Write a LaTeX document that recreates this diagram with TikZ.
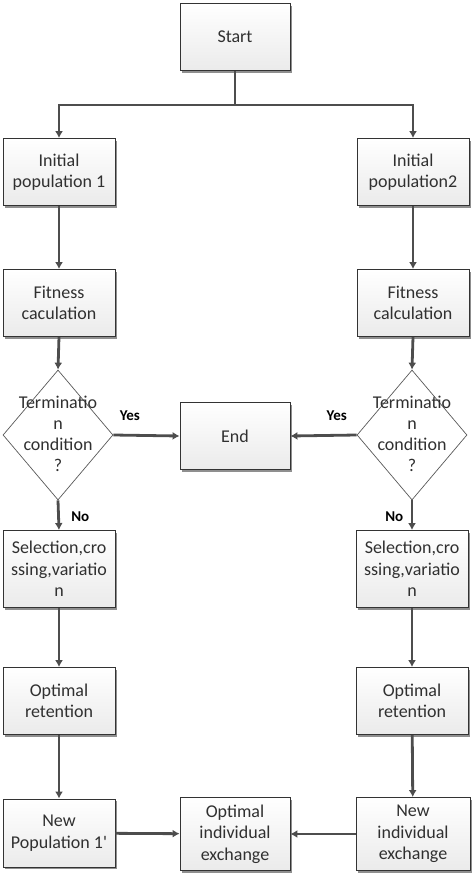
\documentclass[tikz,border=0pt]{standalone}
\usepackage{fontspec}
\setmainfont{Carlito}
\usetikzlibrary{arrows.meta,shapes.geometric,shadows}
\definecolor{linegray}{HTML}{4D4D4D}
\definecolor{textgray}{HTML}{303030}
\tikzset{
    flowbox/.style={draw=black!80, line width=0.9pt, top color=white, bottom color=black!8,
        minimum width=112pt, minimum height=67pt, align=center, text=textgray,
        font=\fontsize{18}{21.5}\selectfont, inner sep=2pt,
        drop shadow={shadow xshift=2.2pt, shadow yshift=-2.2pt, fill=black!55, opacity=0.8}},
    decision/.style={diamond, draw=black!65, line width=0.7pt, fill=white, aspect=0.85,
        minimum width=110pt, minimum height=130pt, inner sep=0pt},
    condtext/.style={text=textgray, align=center, font=\fontsize{18}{21}\selectfont},
    flowarrow/.style={draw=linegray, line width=2.8pt, -{Latex[length=7pt,width=8pt]}},
    answer/.style={font=\bfseries\fontsize{15}{17}\selectfont, text=black}
}

\begin{document}
\begin{tikzpicture}[x=1pt, y=1pt]
    \useasboundingbox (0,0) rectangle (474,-874);

    \node[flowbox, minimum width=110pt] (start) at (235,-37) {Start};
    \node[flowbox] (init1) at (59,-172) {Initial\\population 1};
    \node[flowbox] (init2) at (413,-172) {Initial\\population2};
    \node[flowbox] (fit1) at (59,-303) {Fitness\\caculation};
    \node[flowbox] (fit2) at (413,-303) {Fitness\\calculation};
    \node[decision] (term1) at (58,-435) {};
    \node[decision] (term2) at (412,-435) {};
    \node[condtext] (termtext1) at (58,-434) {Terminatio\\n\\condition\\?};
    \node[condtext] (termtext2) at (412,-434) {Terminatio\\n\\condition\\?};
    \node[flowbox, minimum width=110pt] (end) at (235,-436) {End};
    \node[flowbox, minimum height=77pt] (sel1) at (59,-569) {Selection,cro\\ssing,variatio\\n};
    \node[flowbox, minimum height=77pt] (sel2) at (412,-569) {Selection,cro\\ssing,variatio\\n};
    \node[flowbox] (opt1) at (59,-701) {Optimal\\retention};
    \node[flowbox] (opt2) at (412,-701) {Optimal\\retention};
    \node[flowbox, minimum height=68pt] (new1) at (59,-833) {New\\Population 1\textquotesingle};
    \node[flowbox, minimum width=110pt, minimum height=73pt] (exch) at (235,-834) {Optimal\\individual\\exchange};
    \node[flowbox, minimum width=114pt, minimum height=73pt] (new2) at (413,-834) {New\\individual\\exchange};

    \coordinate (split) at (235,-105);
    \draw[draw=linegray, line width=2.8pt] (start.south) -- (split);
    \draw[flowarrow] (split) -| (init1.north);
    \draw[flowarrow] (split) -| (init2.north);
    \draw[flowarrow] (init1) -- (fit1);
    \draw[flowarrow] (init2) -- (fit2);
    \draw[flowarrow] (fit1.south) -- (term1.north);
    \draw[flowarrow] (fit2.south) -- (term2.north);
    \draw[flowarrow] (term1.east) -- node[answer, above=10pt, pos=0.25] (yes1) {Yes} (end.west);
    \draw[flowarrow] (term2.west) -- node[answer, above=10pt, pos=0.3] (yes2) {Yes} (end.east);
    \draw[flowarrow] (term1.south) -- node[answer, right=8pt, pos=0.55] (no1) {No} (sel1.north);
    \draw[flowarrow] (term2.south) -- node[answer, left=4pt, pos=0.55] (no2) {No} (sel2.north);
    \draw[flowarrow] (sel1) -- (opt1);
    \draw[flowarrow] (sel2) -- (opt2);
    \draw[flowarrow] (opt1) -- (new1);
    \draw[flowarrow] (opt2) -- (new2);
    \draw[flowarrow] (new1) -- (exch);
    \draw[flowarrow] (new2) -- (exch);
\end{tikzpicture}
\end{document}
